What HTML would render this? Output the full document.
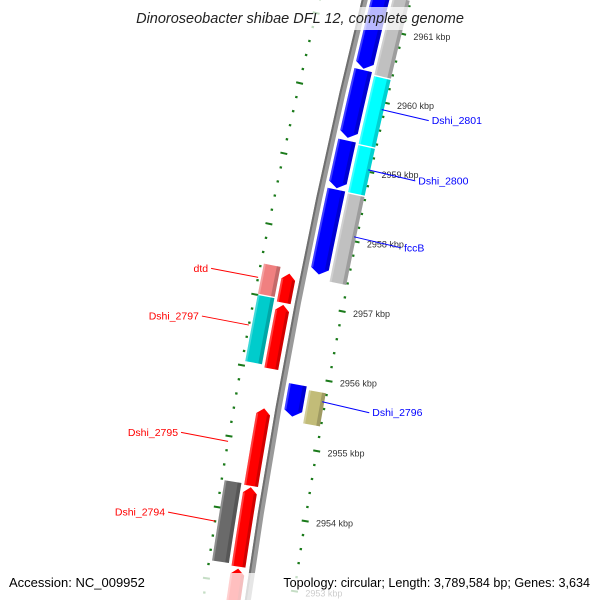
<!DOCTYPE html>
<html><head><meta charset="utf-8">
<style>
html,body{margin:0;padding:0;background:#fff;overflow:hidden;}
svg{display:block;font-family:"Liberation Sans",sans-serif;}
</style></head>
<body>
<svg id="map" width="600" height="600" viewBox="0 0 600 600" xmlns="http://www.w3.org/2000/svg">
<rect x="0" y="0" width="600" height="600" fill="#fff"/>
<g id="layer"></g>
<rect x="118" y="7" width="364" height="23" fill="#fff" fill-opacity="0.72"/>
<text x="300" y="23" text-anchor="middle" font-size="14.5" font-style="italic" fill="#222">Dinoroseobacter shibae DFL 12, complete genome</text>
<rect x="0" y="573" width="600" height="27" fill="#fff" fill-opacity="0.75"/>
<text x="9" y="587" font-size="13" fill="#000">Accession: NC_009952</text>
<text x="590" y="587" text-anchor="end" font-size="12.6" fill="#000">Topology: circular; Length: 3,789,584 bp; Genes: 3,634</text>
</svg>
<script>
// ---- data (positions in kbp) ----
const geneStarts = [2961.478, 2960.378, 2959.364, 2958.660, 2955.871, 2961.478, 2960.329, 2959.335, 2958.640, 2955.823, 2957.376, 2956.932, 2955.464, 2954.346, 2953.198, 2957.444, 2957.000, 2954.385];
const geneEnds   = [2960.397, 2959.403, 2958.680, 2957.444, 2955.417, 2960.349, 2959.354, 2958.660, 2957.376, 2955.350, 2956.961, 2956.025, 2954.366, 2953.226, 2952.175, 2957.019, 2956.064, 2953.256];
const geneTracks = [1, 1, 1, 1, 1, 2, 2, 2, 2, 2, -1, -1, -1, -1, -1, -2, -2, -2];
const geneArrow  = ["down","down","down","down","down","none","none","none","none","none","up","up","up","up","up","none","none","none"];
const geneColors = ["#0000ff","#0000ff","#0000ff","#0000ff","#0000ff","#c0c0c0","#00ffff","#00ffff","#c0c0c0","#c2bc78","#ff0000","#ff0000","#ff0000","#ff0000","#ff0000","#f08080","#00cccc","#6a6a6a"];
const tickKbp = [2962, 2961, 2960, 2959, 2958, 2957, 2956, 2955, 2954, 2953, 2952];
const tickLabels = ["2962 kbp","2961 kbp","2960 kbp","2959 kbp","2958 kbp","2957 kbp","2956 kbp","2955 kbp","2954 kbp","2953 kbp","2952 kbp"];
const labelNames = ["Dshi_2801","Dshi_2800","fccB","Dshi_2796","dtd","Dshi_2797","Dshi_2795","Dshi_2794"];
const labelKbp   = [2959.895, 2959.026, 2958.062, 2955.697, 2957.241, 2956.566, 2954.925, 2953.803];
const labelSide  = [1, 1, 1, 1, -1, -1, -1, -1];

// ---- geometry ----
const R = 6220, CX = 6404, CY = 1488;
const PHI0 = Math.atan2(300 - CY, 298.8 - CX);
const S = 71.5 / 6220;
const K0 = 2957.04;
function pt(k, v){ const a = PHI0 + (k - K0) * S; const r = R - v; return [CX + r*Math.cos(a), CY + r*Math.sin(a)]; }
const trackV = {"1":[6,24], "2":[27,44], "-1":[-21,-7], "-2":[-41,-24]};
const NS = "http://www.w3.org/2000/svg";
const layer = document.getElementById('layer');
function mk(tag, attrs){ const e = document.createElementNS(NS, tag); for (const k in attrs) e.setAttribute(k, attrs[k]); layer.appendChild(e); return e; }
function poly(points){ return points.map(p => p[0].toFixed(2)+","+p[1].toFixed(2)).join(" "); }
function band(k1, k2, v1, v2){ const a=[],b=[]; const n=8; for(let i=0;i<=n;i++){ const k=k1+(k2-k1)*i/n; a.push(pt(k,v1)); b.push(pt(k,v2)); } return a.concat(b.reverse()); }

// backbone
let e = mk('polygon', {points: poly(band(2963, 2951, -3, 3)), fill: '#9a9a9a'});


e = mk('polygon', {points: poly(band(2963, 2951, -3, -1)), fill: '#6f6f6f'});



// tick rings
for (let t = 2951; t <= 2962.001; t += 0.2) {
  const major = Math.abs(t - Math.round(t)) < 0.01;
  [45, -44].forEach(v => {
    const h = major ? 3.5 : 1.2;
    const p1 = pt(t, v - h), p2 = pt(t, v + h);
    const l = mk('line', {x1:p1[0], y1:p1[1], x2:p2[0], y2:p2[1], stroke:'#1a7a1a', 'stroke-width': major ? 2 : 2.2});
    
    
  });
}
tickKbp.forEach((k, i) => {
  const p = pt(k, 56);
  const t = mk('text', {x: p[0], y: p[1] + 3.5, 'font-size': 9, fill: '#333'});
  t.textContent = tickLabels[i];
  
  
});

// genes
geneStarts.forEach((s, i) => {
  const v = trackV[String(geneTracks[i])];
  const v1 = v[0], v2 = v[1], vm = (v1+v2)/2;
  const hi = Math.max(s, geneEnds[i]), lo = Math.min(s, geneEnds[i]);
  const ah = 6/71.5;
  let pts;
  if (geneArrow[i] === 'down') {
    const b = band(hi, lo + ah, v1, v2);
    pts = b.slice(0, 9).concat([pt(lo, vm)]).concat(b.slice(9));
  } else if (geneArrow[i] === 'up') {
    const b = band(lo, hi - ah, v1, v2);
    pts = b.slice(0, 9).concat([pt(hi, vm)]).concat(b.slice(9));
  } else {
    pts = band(hi, lo, v1, v2);
  }
  const g = mk('polygon', {points: poly(pts), fill: geneColors[i]});
  
  
  const kHi = hi - (geneArrow[i]==='up'?ah:0), kLo = lo + (geneArrow[i]==='down'?ah:0);
  const sh = mk('polygon', {points: poly(band(kHi, kLo, v2 - (v2-v1)*0.22, v2)), fill: '#000', 'fill-opacity': 0.18});
  
  
  const li = mk('polygon', {points: poly(band(kHi, kLo, v1, v1 + 2)), fill: '#fff', 'fill-opacity': 0.25});
  
  
});

// gene labels
labelNames.forEach((n, i) => {
  const side = labelSide[i];
  const p1 = pt(labelKbp[i], side > 0 ? 42 : -44);
  const p2 = [p1[0] + side*47, p1[1] + (side > 0 ? 11 : -9)];
  const col = side > 0 ? '#0000ff' : '#ff0000';
  const l = mk('line', {x1:p1[0], y1:p1[1], x2:p2[0], y2:p2[1], stroke: col, 'stroke-width': 1});
  
  
  const t = mk('text', {x: p2[0] + side*3, y: p2[1] + 3.5, 'font-size': 10.5, fill: col, 'text-anchor': side > 0 ? 'start' : 'end'});
  t.textContent = n;
  
  
});
</script>
</body></html>
